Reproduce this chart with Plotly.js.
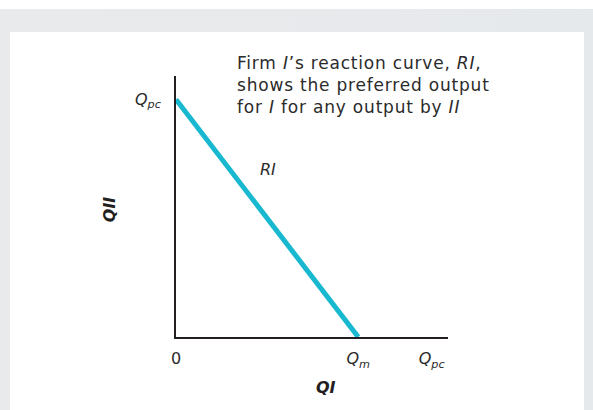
<!DOCTYPE html>
<html>
<head>
<meta charset="utf-8">
<script src="https://cdn.plot.ly/plotly-3.0.1.min.js"></script>
<style>
  html, body { margin: 0; padding: 0; background: #ffffff; }
  body { width: 593px; height: 410px; position: relative; overflow: hidden; }
  #frame { position: absolute; left: 0; top: 9px; width: 593px; height: 401px;
           background: linear-gradient(90deg, #e9eaec 0%, #e6e9ec 100%); }
  #chart { position: absolute; left: 10px; top: 32px; width: 574px; height: 378px; background: #fff; }
  /* slightly tracked-out lettering for the explanatory note */
  #chart .annotation[data-index="0"] text { letter-spacing: 0.8px; }
</style>
</head>
<body>
<div id="frame"></div>
<div id="chart"></div>
<script>
// Reaction curve of firm I: from Q_pc on the QII axis down to Q_m on the QI axis
const curveX = [0, 67];
const curveY = [91, 0];

// Axis markers
const xTickVals = [0, 67, 94];
const xTickText = ['0', '<i>Q</i><sub><i>m</i></sub>', '<i>Q</i><sub><i>pc</i></sub>'];
const yTickVals = [91];
const yTickText = ['<i>Q</i><sub><i>pc</i></sub>'];

// Explanatory note beside the curve
const noteLines = [
  'Firm <i>I</i>\u2019s reaction curve, <i>RI</i>,',
  'shows the preferred output',
  'for <i>I</i> for any output by <i>II</i>'
];

const ink = '#231f20';
const textInk = '#2b2b2b';
const fontFamily = '"DejaVu Sans", Roboto, sans-serif';

const trace = {
  x: curveX,
  y: curveY,
  type: 'scatter',
  mode: 'lines',
  line: { color: '#18b9d0', width: 5 },
  hoverinfo: 'skip'
};

const layout = {
  width: 574,
  height: 378,
  margin: { l: 166, r: 136, t: 44, b: 73 },
  paper_bgcolor: '#ffffff',
  plot_bgcolor: '#ffffff',
  showlegend: false,
  font: { family: fontFamily, color: ink, size: 16 },
  xaxis: {
    range: [0, 100],
    showgrid: false,
    zeroline: false,
    showline: true,
    linecolor: ink,
    linewidth: 2,
    tickvals: xTickVals,
    ticktext: xTickText,
    ticks: 'outside',
    ticklen: 6,
    tickcolor: 'rgba(0,0,0,0)',
    tickfont: { size: 16, color: textInk }
  },
  yaxis: {
    range: [0, 100],
    showgrid: false,
    zeroline: false,
    showline: true,
    linecolor: ink,
    linewidth: 2,
    tickvals: yTickVals,
    ticktext: yTickText,
    ticks: 'outside',
    ticklen: 10,
    tickcolor: 'rgba(0,0,0,0)',
    tickfont: { size: 16, color: textInk }
  },
  annotations: [
    {
      text: noteLines.join('<br>'),
      xref: 'x', yref: 'paper', x: 21.6, y: 1.095,
      xanchor: 'left', yanchor: 'top', align: 'left',
      showarrow: false,
      font: { size: 17, color: textInk, family: fontFamily }
    },
    {
      text: '<i>RI</i>',
      xref: 'x', yref: 'y', x: 33.8, y: 64,
      xanchor: 'center', yanchor: 'middle',
      showarrow: false,
      font: { size: 16, color: textInk, family: fontFamily }
    },
    {
      text: '<b><i>QI</i></b>',
      xref: 'x', yref: 'paper', x: 55, y: -0.195,
      xanchor: 'center', yanchor: 'middle',
      showarrow: false,
      font: { size: 16, color: ink, family: fontFamily }
    },
    {
      text: '<b><i>QII</i></b>',
      xref: 'paper', yref: 'paper', x: -0.246, y: 0.49,
      xanchor: 'center', yanchor: 'middle',
      textangle: -90,
      showarrow: false,
      font: { size: 16, color: ink, family: fontFamily }
    }
  ]
};

Plotly.newPlot('chart', [trace], layout, { displayModeBar: false, staticPlot: true });
</script>
</body>
</html>
